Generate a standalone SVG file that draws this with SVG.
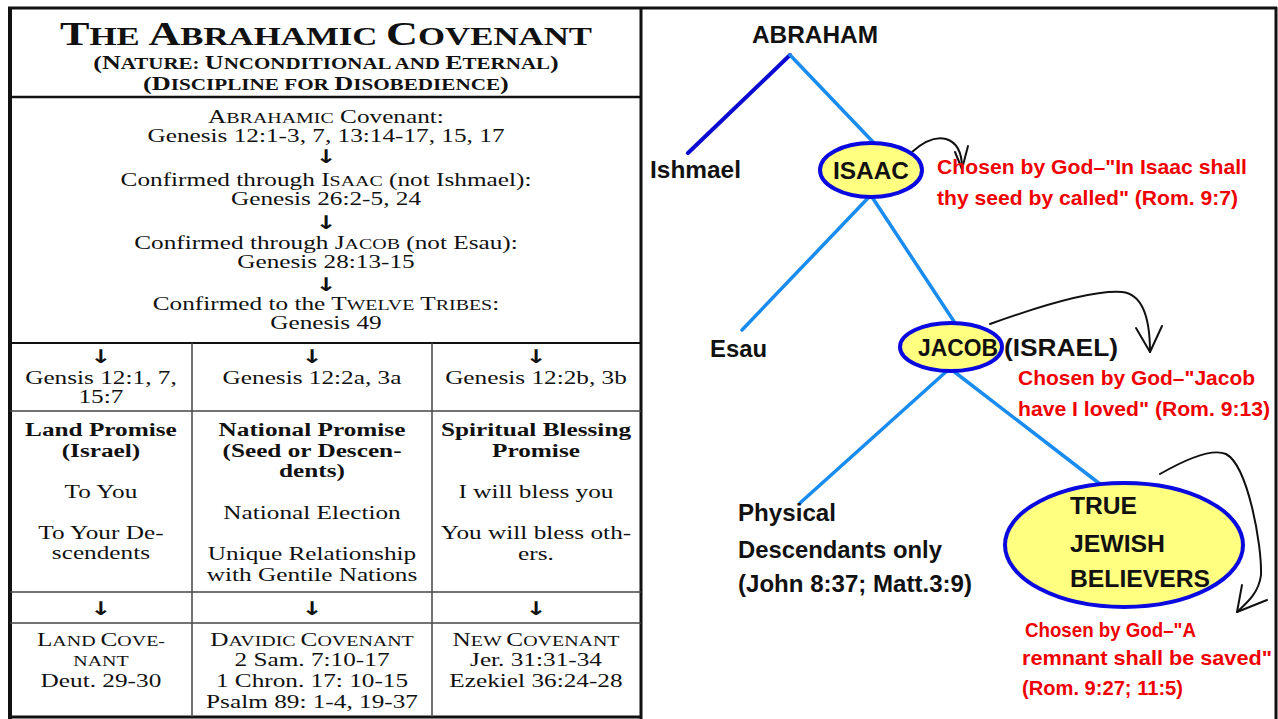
<svg xmlns="http://www.w3.org/2000/svg" width="1278" height="719" viewBox="0 0 1278 719">
<style>
.tb{font-family:"Liberation Serif","Times New Roman",serif;font-size:19px;fill:#111;text-anchor:middle}
.b{font-weight:bold}
.sc{font-size:15px}
.arr{font-family:"DejaVu Sans",sans-serif;font-size:19px;font-weight:bold;fill:#111;text-anchor:middle}
.frame{stroke:#111;fill:none}
.grid{stroke:#444;stroke-width:1.5;fill:none}
.lbl{font-family:"Liberation Sans",Arial,sans-serif;font-weight:bold;font-size:24px;fill:#111}
.red{font-family:"Liberation Sans",Arial,sans-serif;font-weight:bold;font-size:21px;fill:#f00000}
.node{fill:#ffff80;stroke:#0a0ae0;stroke-width:4}
.lb{stroke:#1a8cf0;stroke-width:3.5;fill:none;stroke-linecap:round}
.db{stroke:#0a0ad0;stroke-width:4;fill:none;stroke-linecap:round}
.cur{stroke:#111;stroke-width:2;fill:none;stroke-linecap:round;stroke-linejoin:round}
</style>
<rect width="1278" height="719" fill="#fff"/>

<g id="table-frame">
<line class="frame" x1="8" y1="8" x2="1277" y2="8" stroke-width="3"/>
<line class="frame" x1="10" y1="7" x2="10" y2="719" stroke-width="4"/>
<line class="frame" x1="641" y1="7" x2="641" y2="719" stroke-width="3"/>
<line class="frame" x1="1276" y1="7" x2="1276" y2="719" stroke-width="3"/>
<line class="frame" x1="10" y1="717" x2="641" y2="717" stroke-width="3"/>
<line class="frame" x1="10" y1="97" x2="641" y2="97" stroke-width="2.5"/>
<line class="frame" x1="10" y1="343" x2="641" y2="343" stroke-width="2"/>
<line class="grid" x1="10" y1="411" x2="641" y2="411"/>
<line class="grid" x1="10" y1="592" x2="641" y2="592"/>
<line class="grid" x1="10" y1="623" x2="641" y2="623"/>
<line class="grid" x1="192" y1="343" x2="192" y2="717"/>
<line class="grid" x1="432" y1="343" x2="432" y2="717"/>
</g>

<g id="table-text" transform="scale(1.33,1)">
<text class="tb b" x="245.1" y="45" style="font-size:33px" textLength="400" lengthAdjust="spacingAndGlyphs">T<tspan style="font-size:26px">HE </tspan>A<tspan style="font-size:26px">BRAHAMIC </tspan>C<tspan style="font-size:26px">OVENANT</tspan></text>
<text class="tb b" x="245.1" y="69" style="font-size:19.5px" textLength="350" lengthAdjust="spacingAndGlyphs">(N<tspan style="font-size:15.7px">ATURE: </tspan>U<tspan style="font-size:15.7px">NCONDITIONAL AND </tspan>E<tspan style="font-size:15.7px">TERNAL</tspan>)</text>
<text class="tb b" x="245.1" y="90" style="font-size:19.5px" textLength="275" lengthAdjust="spacingAndGlyphs">(D<tspan style="font-size:15.7px">ISCIPLINE FOR </tspan>D<tspan style="font-size:15.7px">ISOBEDIENCE</tspan>)</text>

<text class="tb" x="245.1" y="123">A<tspan class="sc">BRAHAMIC</tspan> Covenant:</text>
<text class="tb" x="245.1" y="142">Genesis 12:1-3, 7, 13:14-17, 15, 17</text>
<text class="arr" x="245.1" y="163">↓</text>
<text class="tb" x="245.1" y="186">Confirmed through I<tspan class="sc">SAAC</tspan> (not Ishmael):</text>
<text class="tb" x="245.1" y="205">Genesis 26:2-5, 24</text>
<text class="arr" x="245.1" y="229">↓</text>
<text class="tb" x="245.1" y="249">Confirmed through J<tspan class="sc">ACOB</tspan> (not Esau):</text>
<text class="tb" x="245.1" y="268">Genesis 28:13-15</text>
<text class="arr" x="245.1" y="291">↓</text>
<text class="tb" x="245.1" y="310">Confirmed to the T<tspan class="sc">WELVE</tspan> T<tspan class="sc">RIBES</tspan>:</text>
<text class="tb" x="245.1" y="329">Genesis 49</text>

<text class="arr" x="75.9" y="363">↓</text>
<text class="arr" x="234.6" y="363">↓</text>
<text class="arr" x="403" y="363">↓</text>
<text class="tb" x="75.9" y="384">Gensis 12:1, 7,</text>
<text class="tb" x="75.9" y="403">15:7</text>
<text class="tb" x="234.6" y="384">Genesis 12:2a, 3a</text>
<text class="tb" x="403" y="384">Genesis 12:2b, 3b</text>

<text class="tb b" x="75.9" y="436">Land Promise</text>
<text class="tb b" x="75.9" y="457">(Israel)</text>
<text class="tb" x="75.9" y="498">To You</text>
<text class="tb" x="75.9" y="539">To Your De-</text>
<text class="tb" x="75.9" y="559">scendents</text>

<text class="tb b" x="234.6" y="436">National Promise</text>
<text class="tb b" x="234.6" y="457">(Seed or Descen-</text>
<text class="tb b" x="234.6" y="477">dents)</text>
<text class="tb" x="234.6" y="519">National Election</text>
<text class="tb" x="234.6" y="560">Unique Relationship</text>
<text class="tb" x="234.6" y="581">with Gentile Nations</text>

<text class="tb b" x="403" y="436">Spiritual Blessing</text>
<text class="tb b" x="403" y="457">Promise</text>
<text class="tb" x="403" y="498">I will bless you</text>
<text class="tb" x="403" y="539">You will bless oth-</text>
<text class="tb" x="403" y="560">ers.</text>

<text class="arr" x="75.9" y="615">↓</text>
<text class="arr" x="234.6" y="615">↓</text>
<text class="arr" x="403" y="615">↓</text>

<text class="tb" x="75.9" y="646">L<tspan class="sc">AND </tspan>C<tspan class="sc">OVE-</tspan></text>
<text class="tb" x="75.9" y="666"><tspan class="sc">NANT</tspan></text>
<text class="tb" x="75.9" y="687">Deut. 29-30</text>
<text class="tb" x="234.6" y="646">D<tspan class="sc">AVIDIC </tspan>C<tspan class="sc">OVENANT</tspan></text>
<text class="tb" x="234.6" y="666">2 Sam. 7:10-17</text>
<text class="tb" x="234.6" y="687">1 Chron. 17: 10-15</text>
<text class="tb" x="234.6" y="708">Psalm 89: 1-4, 19-37</text>
<text class="tb" x="403" y="646">N<tspan class="sc">EW </tspan>C<tspan class="sc">OVENANT</tspan></text>
<text class="tb" x="403" y="666">Jer. 31:31-34</text>
<text class="tb" x="403" y="687">Ezekiel 36:24-28</text>
</g>

<g id="connectors">
<line class="db" x1="790" y1="55" x2="688" y2="153"/>
<line class="lb" x1="790" y1="55" x2="874" y2="143"/>
<line class="lb" x1="869" y1="197" x2="742" y2="330"/>
<line class="lb" x1="872" y1="197" x2="955" y2="323"/>
<line class="lb" x1="948" y1="370" x2="800" y2="503"/>
<line class="lb" x1="952" y1="370" x2="1100" y2="484"/>
<path class="cur" d="M912,152 C922,143 935,136 946,139 C956,142 962,152 962,168"/>
<path class="cur" d="M955,152 L962,169 L968,146"/>
<path class="cur" d="M990,324 C1040,306 1095,290 1122,292 C1142,294 1150,318 1150,352"/>
<path class="cur" d="M1136,328 L1150,352 L1162,326"/>
<path class="cur" d="M1160,474 C1188,458 1212,448 1226,454 C1248,466 1262,545 1261,575 C1259,592 1248,602 1237,612"/>
<path class="cur" d="M1242,585 L1237,612 L1267,600"/>
</g>

<g id="abraham"><text class="lbl" x="752" y="43" textLength="126" lengthAdjust="spacingAndGlyphs">ABRAHAM</text></g>
<g id="ishmael"><text class="lbl" x="650" y="178" textLength="91" lengthAdjust="spacingAndGlyphs">Ishmael</text></g>
<g id="isaac">
<ellipse class="node" cx="871" cy="170" rx="51" ry="27"/>
<text class="lbl" x="871" y="179" text-anchor="middle" textLength="76" lengthAdjust="spacingAndGlyphs">ISAAC</text>
</g>
<g id="isaac-note">
<text class="red" x="937" y="174" textLength="310" lengthAdjust="spacingAndGlyphs">Chosen by God–"In Isaac shall</text>
<text class="red" x="937" y="205" textLength="301" lengthAdjust="spacingAndGlyphs">thy seed by called" (Rom. 9:7)</text>
</g>
<g id="esau"><text class="lbl" x="710" y="357" textLength="57" lengthAdjust="spacingAndGlyphs">Esau</text></g>
<g id="jacob">
<ellipse class="node" cx="951" cy="347" rx="51" ry="24"/>
<text class="lbl" x="958" y="356" text-anchor="middle" textLength="80" lengthAdjust="spacingAndGlyphs">JACOB</text>
<text class="lbl" x="1004" y="356" textLength="114" lengthAdjust="spacingAndGlyphs">(ISRAEL)</text>
</g>
<g id="jacob-note">
<text class="red" x="1018" y="385" textLength="237" lengthAdjust="spacingAndGlyphs">Chosen by God–"Jacob</text>
<text class="red" x="1018" y="416" textLength="252" lengthAdjust="spacingAndGlyphs">have I loved" (Rom. 9:13)</text>
</g>
<g id="physical">
<text class="lbl" x="738" y="521" textLength="98" lengthAdjust="spacingAndGlyphs">Physical</text>
<text class="lbl" x="738" y="558" textLength="204" lengthAdjust="spacingAndGlyphs">Descendants only</text>
<text class="lbl" x="738" y="592" textLength="234" lengthAdjust="spacingAndGlyphs">(John 8:37; Matt.3:9)</text>
</g>
<g id="true-believers">
<ellipse class="node" cx="1124" cy="545" rx="119" ry="62"/>
<text class="lbl" x="1070" y="514" textLength="67" lengthAdjust="spacingAndGlyphs">TRUE</text>
<text class="lbl" x="1070" y="552" textLength="95" lengthAdjust="spacingAndGlyphs">JEWISH</text>
<text class="lbl" x="1070" y="587" textLength="140" lengthAdjust="spacingAndGlyphs">BELIEVERS</text>
</g>
<g id="remnant-note">
<text class="red" x="1025" y="637" textLength="171" lengthAdjust="spacingAndGlyphs">Chosen by God–"A</text>
<text class="red" x="1022" y="665" textLength="250" lengthAdjust="spacingAndGlyphs">remnant shall be saved"</text>
<text class="red" x="1022" y="695" textLength="161" lengthAdjust="spacingAndGlyphs">(Rom. 9:27; 11:5)</text>
</g>
</svg>
